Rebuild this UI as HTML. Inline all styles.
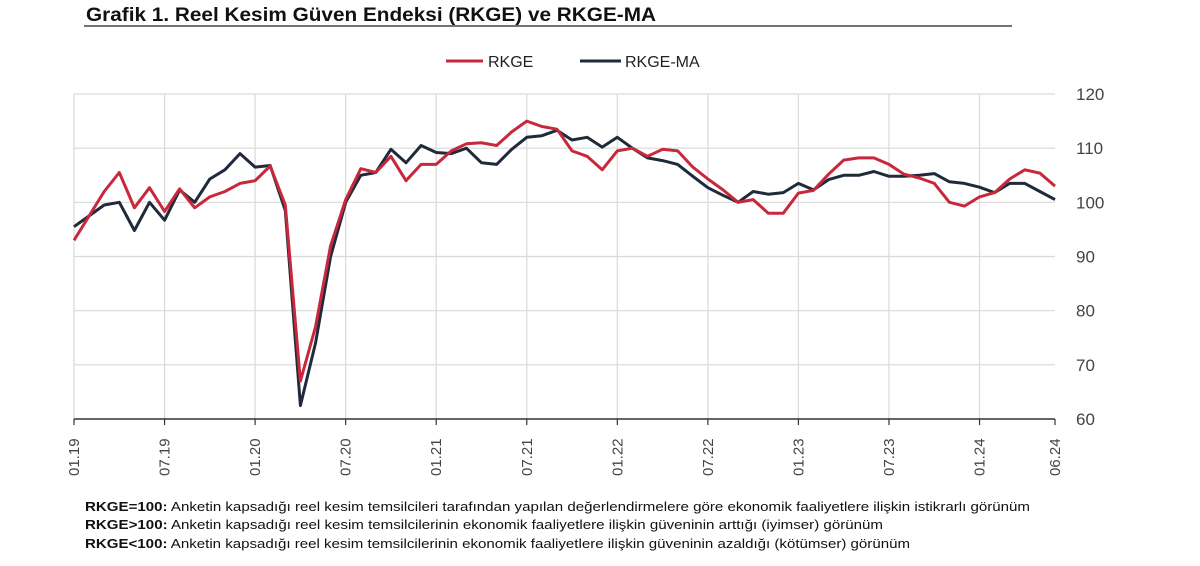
<!DOCTYPE html>
<html><head><meta charset="utf-8"><style>
body{margin:0;background:#fff;width:1200px;height:561px;overflow:hidden;font-family:"Liberation Sans",sans-serif}
</style></head><body>
<svg width="1200" height="561" xmlns="http://www.w3.org/2000/svg" font-family="Liberation Sans, sans-serif">
<text x="86" y="21" font-size="19" font-weight="bold" fill="#111" textLength="570" lengthAdjust="spacingAndGlyphs">Grafik 1. Reel Kesim Güven Endeksi (RKGE) ve RKGE-MA</text>
<line x1="84" y1="26" x2="1012" y2="26" stroke="#222" stroke-width="1.3"/>
<line x1="446" y1="61" x2="483" y2="61" stroke="#c8283c" stroke-width="3"/>
<text x="488" y="67" font-size="16" fill="#222">RKGE</text>
<line x1="580" y1="61" x2="621" y2="61" stroke="#1f2a3a" stroke-width="3"/>
<text x="625" y="67" font-size="16" fill="#222">RKGE-MA</text>
<g id="grid" stroke="#d9d9d9" stroke-width="1.2"></g>
<line x1="74" y1="419" x2="1055" y2="419" stroke="#333" stroke-width="1.5"/>
<g id="ticks" stroke="#333" stroke-width="1.2"></g>
<g id="ylab" font-size="17" fill="#444"></g>
<g id="xlab" font-size="15" fill="#444"></g>
<polyline id="ma" fill="none" stroke="#1f2a3a" stroke-width="3" stroke-linejoin="round"/>
<polyline id="rk" fill="none" stroke="#c8283c" stroke-width="3" stroke-linejoin="round"/>
<text x="85" y="511" font-size="13" fill="#111" textLength="945" lengthAdjust="spacingAndGlyphs"><tspan font-weight="bold">RKGE=100:</tspan> Anketin kapsadığı reel kesim temsilcileri tarafından yapılan değerlendirmelere göre ekonomik faaliyetlere ilişkin istikrarlı görünüm</text>
<text x="85" y="529" font-size="13" fill="#111" textLength="798" lengthAdjust="spacingAndGlyphs"><tspan font-weight="bold">RKGE&gt;100:</tspan> Anketin kapsadığı reel kesim temsilcilerinin ekonomik faaliyetlere ilişkin güveninin arttığı (iyimser) görünüm</text>
<text x="85" y="548" font-size="13" fill="#111" textLength="825" lengthAdjust="spacingAndGlyphs"><tspan font-weight="bold">RKGE&lt;100:</tspan> Anketin kapsadığı reel kesim temsilcilerinin ekonomik faaliyetlere ilişkin güveninin azaldığı (kötümser) görünüm</text>
</svg>
<script>
var NS="http://www.w3.org/2000/svg";
function el(p,t,a,txt){var e=document.createElementNS(NS,t);for(var k in a)e.setAttribute(k,a[k]);if(txt)e.textContent=txt;document.getElementById(p).appendChild(e);}
var X0=74,X1=1055,dx=(X1-X0)/65;
function Y(v){return 419-(v-60)*325/60;}
for(var v=70;v<=120;v+=10){el("grid","line",{x1:X0,x2:X1,y1:Y(v),y2:Y(v)});}
for(var v=60;v<=120;v+=10){el("ylab","text",{x:1076,y:Y(v)+6},String(v));}
var labs=["01.19","07.19","01.20","07.20","01.21","07.21","01.22","07.22","01.23","07.23","01.24"];
for(var i=0;i<11;i++){var x=X0+i*6*dx;el("grid","line",{x1:x,x2:x,y1:94,y2:419});el("ticks","line",{x1:x,x2:x,y1:419,y2:425});
el("xlab","text",{x:0,y:0,transform:"translate("+(x+5)+",476) rotate(-90)"},labs[i]);}
el("ticks","line",{x1:X1,x2:X1,y1:419,y2:425});
el("xlab","text",{x:0,y:0,transform:"translate("+(X1+5)+",476) rotate(-90)"},"06.24");
var rk=[93,97.5,102,105.5,99,102.7,98.3,102.5,99,101,102,103.5,104,106.7,99.5,67,77,92,100.5,106.2,105.5,108.5,104,107,107,109.5,110.8,111,110.5,113,115,114,113.5,109.5,108.5,106,109.5,110,108.5,109.8,109.5,106.5,104.3,102.3,100,100.5,98,98,101.7,102.2,105.2,107.8,108.2,108.2,107,105.2,104.5,103.5,100,99.3,101,101.8,104.3,106,105.4,103];
var ma=[95.5,97.5,99.5,100,94.8,100,96.7,102.3,100,104.3,106,109,106.5,106.8,98.5,62.5,74,90,100,105,105.5,109.8,107.3,110.5,109.2,109,110,107.3,107,109.8,112,112.3,113.3,111.5,112,110.2,112,110,108.2,107.7,107,104.8,102.7,101.3,100,102,101.5,101.8,103.5,102.3,104.2,105,105,105.7,104.8,104.8,105,105.3,103.8,103.5,102.8,101.8,103.5,103.5,102,100.5];
function pts(a){return a.map(function(v,i){return (X0+i*dx).toFixed(1)+","+Y(v).toFixed(1)}).join(" ");}
document.getElementById("rk").setAttribute("points",pts(rk));
document.getElementById("ma").setAttribute("points",pts(ma));
</script>
</body></html>
